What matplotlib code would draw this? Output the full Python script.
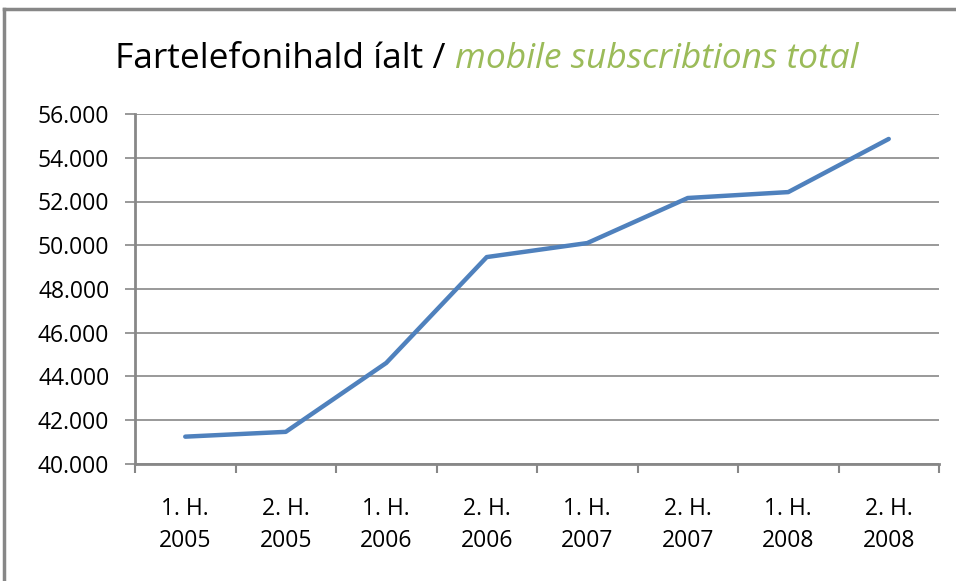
import matplotlib
matplotlib.use("Agg")
import matplotlib.pyplot as plt
from matplotlib.lines import Line2D
import numpy as np

categories = ["1. H.\n2005", "2. H.\n2005", "1. H.\n2006", "2. H.\n2006",
              "1. H.\n2007", "2. H.\n2007", "1. H.\n2008", "2. H.\n2008"]
subscriptions = [41250, 41470, 44620, 49460, 50100, 52160, 52430, 54860]
y_ticks = [40000, 42000, 44000, 46000, 48000, 50000, 52000, 54000, 56000]
y_tick_labels = ["40.000", "42.000", "44.000", "46.000", "48.000",
                 "50.000", "52.000", "54.000", "56.000"]

FONT = ["Open Sans", "DejaVu Sans"]
GRAY = "#878787"

fig = plt.figure(figsize=(9.56, 5.81), dpi=100)
ax = fig.add_axes([135/956, 1-464/581, (939-135)/956, (464-114)/581])

x = np.arange(len(categories))
ax.plot(x, subscriptions, color="#4F81BD", lw=3.2, solid_capstyle="round",
        solid_joinstyle="round", zorder=3)

ax.set_xlim(-0.5, len(categories) - 0.5)
ax.set_ylim(y_ticks[0], y_ticks[-1])
ax.set_yticks(y_ticks)
ax.set_yticklabels(y_tick_labels, family=FONT, fontsize=16.5)
ax.yaxis.grid(True, color=GRAY, lw=1.2)
ax.set_axisbelow(True)

ax.set_xticks(np.arange(-0.5, len(categories)))
ax.set_xticklabels([])
ax.set_xticks(x, minor=True)
ax.set_xticklabels(categories, minor=True, family=FONT, fontsize=16.5,
                   linespacing=1.45)
ax.tick_params(axis="x", which="minor", length=0, pad=24)
ax.tick_params(axis="x", which="major", length=6.5, color=GRAY, width=1.5)
ax.tick_params(axis="y", length=7, color=GRAY, width=1.2, pad=11.5)

for s in ["top", "right"]:
    ax.spines[s].set_visible(False)
for s in ["left", "bottom"]:
    ax.spines[s].set_color(GRAY)
    ax.spines[s].set_linewidth(2)

# figure border (left and top visible)
fig.add_artist(Line2D([4/956, 4/956], [0, 1-9/581], transform=fig.transFigure,
                      color=GRAY, lw=2.5))
fig.add_artist(Line2D([4/956, 1], [1-9/581, 1-9/581], transform=fig.transFigure,
                      color=GRAY, lw=2.5))

# title with two colours
t1 = fig.text(0.5, 1-68/581, "Fartelefonihald íalt / ", family=FONT,
              fontsize=25.5, color="black", ha="left", va="baseline")
t2 = fig.text(0.5, 1-68/581, "mobile subscribtions total", family=FONT,
              fontsize=25.5, color="#9BBB59", style="italic", ha="left", va="baseline")
fig.canvas.draw()
r = fig.canvas.get_renderer()
w1 = t1.get_window_extent(r).width
w2 = t2.get_window_extent(r).width
total = w1 + w2
start = 487 - total / 2
t1.set_x(start / 956)
t2.set_x((start + w1) / 956)

fig.savefig("out.png", dpi=100)
